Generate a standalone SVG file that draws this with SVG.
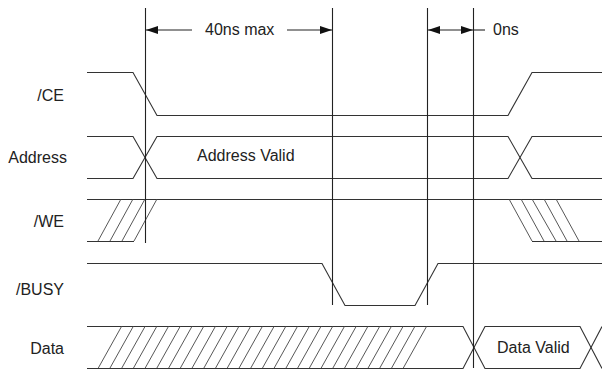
<svg xmlns="http://www.w3.org/2000/svg" width="602" height="372" viewBox="0 0 602 372">
<style>
.w{fill:none;stroke:#333;stroke-width:1.1}
.h{fill:none;stroke:#444;stroke-width:0.9}
.v{fill:none;stroke:#222;stroke-width:1.1}
.t{font-family:"Liberation Sans",Arial,sans-serif;font-size:16px;fill:#222}
.lbl{text-anchor:end}
</style>
<defs>
<marker id="ah" markerUnits="userSpaceOnUse" markerWidth="13" markerHeight="9" refX="12" refY="4" orient="auto-start-reverse">
<path d="M0,0 L12,4 L0,8 z" fill="#111"/>
</marker>
</defs>
<rect width="602" height="372" fill="#fff"/>

<g id="labels">
<text class="t lbl" x="64" y="101">/CE</text>
<text class="t lbl" x="67" y="163">Address</text>
<text class="t lbl" x="64" y="227">/WE</text>
<text class="t lbl" x="64" y="295">/BUSY</text>
<text class="t lbl" x="64" y="354">Data</text>
</g>

<g id="ce">
<path class="w" d="M87,72.5 H133 L157,115.5 H508 L532,72.5 H602"/>
</g>

<g id="address">
<path class="w" d="M87,136.5 H133 L157,178.5 H508 L532,136.5 H602"/>
<path class="w" d="M87,178.5 H133 L157,136.5 H508 L532,178.5 H602"/>
<text class="t" x="197" y="161">Address Valid</text>
</g>

<g id="we">
<path class="w" d="M87,199.5 H602"/>
<path class="w" d="M87,241.5 H134"/>
<path class="w" d="M532,241.5 H602"/>
<path class="h" d="M98,241 L121,199 M110,241 L133,199 M122,241 L145,199 M134,241 L157,199"/>
<path class="h" d="M509,199 L532,241 M521,199 L544,241 M532,199 L556,241 M544,199 L567,241 M556,199 L579,241"/>
</g>

<g id="busy">
<path class="w" d="M87,263.5 H322 L345,305.5 H415 L438,263.5 H602"/>
</g>

<g id="data">
<path class="w" d="M87,326.5 H463 L485,368.5 H580 L602,326.5"/>
<path class="w" d="M87,368.5 H463 L485,326.5 H580 L602,368.5"/>
<path class="h" d="M98.3,368 l23.5,-42 M110,368 l23.5,-42 M121.8,368 l23.5,-42 M133.5,368 l23.5,-42 M145.2,368 l23.5,-42 M156.9,368 l23.5,-42 M168.7,368 l23.5,-42 M180.4,368 l23.5,-42 M192.1,368 l23.5,-42 M203.9,368 l23.5,-42 M215.6,368 l23.5,-42 M227.3,368 l23.5,-42 M239.1,368 l23.5,-42 M250.8,368 l23.5,-42 M262.5,368 l23.5,-42 M274.2,368 l23.5,-42 M286,368 l23.5,-42 M297.7,368 l23.5,-42 M309.4,368 l23.5,-42 M321.2,368 l23.5,-42 M332.9,368 l23.5,-42 M344.6,368 l23.5,-42 M356.4,368 l23.5,-42 M368.1,368 l23.5,-42 M379.8,368 l23.5,-42 M391.6,368 l23.5,-42 M403.3,368 l23.5,-42"/>
<text class="t" x="497" y="353">Data Valid</text>
</g>

<g id="connectors">
<line class="v" x1="145.5" y1="8" x2="145.5" y2="243"/>
<line class="v" x1="332.5" y1="8" x2="332.5" y2="305"/>
<line class="v" x1="427.5" y1="8" x2="427.5" y2="305"/>
<line class="v" x1="473.5" y1="8" x2="473.5" y2="368"/>
<line class="v" x1="192" y1="30" x2="146" y2="30" marker-end="url(#ah)"/>
<line class="v" x1="287" y1="30" x2="332" y2="30" marker-end="url(#ah)"/>
<line class="v" x1="428" y1="30" x2="473" y2="30" marker-start="url(#ah)" marker-end="url(#ah)"/>
<line class="v" x1="473" y1="30" x2="485" y2="30"/>
<text class="t" x="205" y="35">40ns max</text>
<text class="t" x="493" y="35">0ns</text>
</g>
</svg>
